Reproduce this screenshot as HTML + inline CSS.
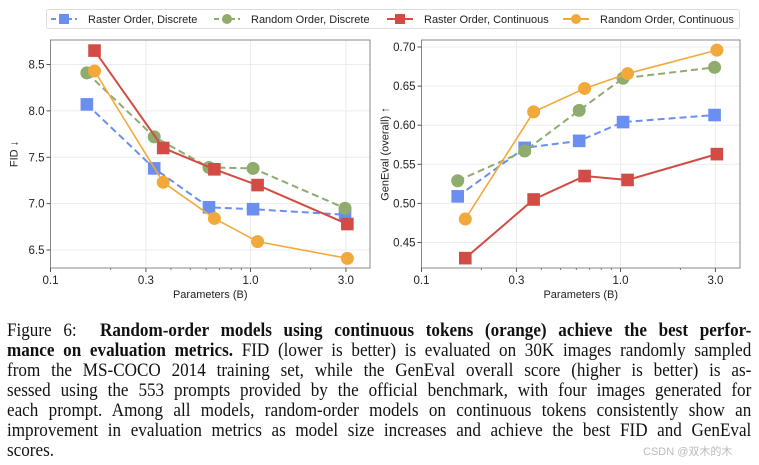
<!DOCTYPE html>
<html><head><meta charset="utf-8"><style>
body{margin:0;width:759px;height:465px;background:#fff;overflow:hidden;position:relative;font-family:"Liberation Sans",sans-serif}
svg{position:absolute;left:0;top:0}
.cap{position:absolute;left:7px;width:827px;font-family:"Liberation Serif",serif;font-size:19px;line-height:20px;color:#111;transform:scaleX(0.9);transform-origin:0 0}
.cap div{text-align:justify;text-align-last:justify;white-space:nowrap;overflow:visible;height:20px}
.cap div.last{text-align-last:left}
.wm{position:absolute;left:643px;top:443px;font-size:11px;color:#bbb;font-family:"Liberation Sans","Noto Sans CJK SC",sans-serif}
</style></head><body>
<svg id="chart" width="759" height="310"></svg>
<div class="cap" style="top:321px">
<div>Figure 6: &nbsp;<b>Random-order models using continuous tokens (orange) achieve the best perfor-</b></div>
<div><b>mance on evaluation metrics.</b> FID (lower is better) is evaluated on 30K images randomly sampled</div>
<div>from the MS-COCO 2014 training set, while the GenEval overall score (higher is better) is as-</div>
<div>sessed using the 553 prompts provided by the official benchmark, with four images generated for</div>
<div>each prompt. Among all models, random-order models on continuous tokens consistently show an</div>
<div>improvement in evaluation metrics as model size increases and achieve the best FID and GenEval</div>
<div class="last">scores.</div>
</div>
<div class="wm">CSDN @双木的木</div>
<script>
const paramsDisc=[0.152,0.33,0.62,1.03,2.97];
const paramsCont=[0.166,0.366,0.66,1.085,3.05];
const fidRasterDisc=[8.07,7.38,6.96,6.94,6.88];
const fidRandomDisc=[8.41,7.72,7.39,7.38,6.95];
const fidRasterCont=[8.65,7.60,7.37,7.20,6.78];
const fidRandomCont=[8.43,7.23,6.84,6.59,6.41];
const genRasterDisc=[0.509,0.571,0.580,0.604,0.613];
const genRandomDisc=[0.529,0.567,0.619,0.660,0.674];
const genRasterCont=[0.430,0.505,0.535,0.530,0.563];
const genRandomCont=[0.480,0.617,0.647,0.666,0.696];
const xTicks=[0.1,0.3,1.0,3.0];
const xTickLabels=["0.1","0.3","1.0","3.0"];
const fidTicks=[6.5,7.0,7.5,8.0,8.5];
const genTicks=[0.45,0.50,0.55,0.60,0.65,0.70];
const NS="http://www.w3.org/2000/svg";
const svg=document.getElementById('chart');
function mk(tag,attrs,parent){const e=document.createElementNS(NS,tag);for(const k in attrs)e.setAttribute(k,attrs[k]);(parent||svg).appendChild(e);return e;}
const styles=[
 {name:'raster-discrete',c:'#6b8ff0',m:'sq',dash:'7,4',w:2},
 {name:'random-discrete',c:'#8fac6e',m:'ci',dash:'7,4',w:2},
 {name:'raster-continuous',c:'#d24b44',m:'sq',dash:'',w:2},
 {name:'random-continuous',c:'#f2a93b',m:'ci',dash:'',w:1.6}];
function marker(g,m,x,y,c){let e;if(m==='sq'){e=mk('rect',{x:x-6.3,y:y-6.3,width:12.6,height:12.6,fill:c},g);}else{e=mk('circle',{cx:x,cy:y,r:6.5,fill:c},g);}return e;}
function panel(id,L,R,T,B,x0,decade,yv0,yp0,ppu,yTicks,yFmt,series,ylabel){
 const g=mk('g',{});
 const X=v=>x0+(Math.log10(v)+1)*decade;const Y=v=>yp0-(v-yv0)*ppu;
 xTicks.forEach((t,i)=>{const l=mk('line',{x1:X(t),x2:X(t),y1:T,y2:B,stroke:'#ececec','stroke-width':1},g);});
 yTicks.forEach(t=>{const l=mk('line',{x1:L,x2:R,y1:Y(t),y2:Y(t),stroke:'#ececec','stroke-width':1},g);});
 const fr=mk('rect',{x:L,y:T,width:R-L,height:B-T,fill:'none',stroke:'#888','stroke-width':1},g);
 xTicks.forEach((t,i)=>{mk('line',{x1:X(t),x2:X(t),y1:B,y2:B+4,stroke:'#555'},g);const tx=mk('text',{x:X(t),y:B+16,'font-size':11.5,'text-anchor':'middle',fill:'#222'},g);tx.textContent=xTickLabels[i];});
 [0.2,0.4,0.5,0.6,0.7,0.8,0.9,2].forEach(t=>mk('line',{x1:X(t),x2:X(t),y1:B,y2:B+2,stroke:'#777'},g));
 yTicks.forEach(t=>{mk('line',{x1:L-4,x2:L,y1:Y(t),y2:Y(t),stroke:'#555'},g);const tx=mk('text',{x:L-6,y:Y(t)+4,'font-size':11.5,'text-anchor':'end',fill:'#222'},g);tx.textContent=yFmt(t);});
 const xl=mk('text',{x:(L+R)/2,y:B+30,'font-size':11,'text-anchor':'middle',fill:'#222'},g);xl.textContent='Parameters (B)';
 const yl=mk('text',{x:0,y:0,'font-size':11,'text-anchor':'middle',fill:'#222',transform:`translate(${L-33},${(T+B)/2}) rotate(-90)`},g);yl.textContent=ylabel;
 series.forEach((s,i)=>{const st=styles[i];const sg=mk('g',{},g);
  const pts=s.y.map((v,j)=>X(s.x[j])+','+Y(v)).join(' ');
  const pl=mk('polyline',{points:pts,fill:'none',stroke:st.c,'stroke-width':st.w,'stroke-dasharray':st.dash},sg);
  s.y.forEach((v,j)=>{const e=marker(sg,st.m,X(s.x[j]),Y(v),st.c);});});
}
panel('fid-chart',50.5,370,40,268,50.5,200,8.5,64.5,92.75,fidTicks,t=>t.toFixed(1),
 [{x:paramsDisc,y:fidRasterDisc},{x:paramsDisc,y:fidRandomDisc},{x:paramsCont,y:fidRasterCont},{x:paramsCont,y:fidRandomCont}],'FID ↓');
panel('geneval-chart',421.5,740,40,268,421.5,199,0.70,47,782,genTicks,t=>t.toFixed(2),
 [{x:paramsDisc,y:genRasterDisc},{x:paramsDisc,y:genRandomDisc},{x:paramsCont,y:genRasterCont},{x:paramsCont,y:genRandomCont}],'GenEval (overall) ↑');
const lg=mk('g',{});
mk('rect',{x:46.5,y:9.5,width:693,height:19,fill:'#fff',stroke:'#ddd',rx:2},lg);
const labels=['Raster Order, Discrete','Random Order, Discrete','Raster Order, Continuous','Random Order, Continuous'];
const lx=[51,214,387,563];
labels.forEach((t,i)=>{const st=styles[i];const e=mk('g',{},lg);
 mk('line',{x1:lx[i],x2:lx[i]+26,y1:19,y2:19,stroke:st.c,'stroke-width':2,'stroke-dasharray':st.dash?'5,3':''},e);
 if(st.m==='sq')mk('rect',{x:lx[i]+8,y:14,width:10,height:10,fill:st.c},e);else mk('circle',{cx:lx[i]+13,cy:19,r:5,fill:st.c},e);
 const tx=mk('text',{x:lx[i]+37,y:23,'font-size':11,fill:'#222'},e);tx.textContent=t;});
</script>
</body></html>
